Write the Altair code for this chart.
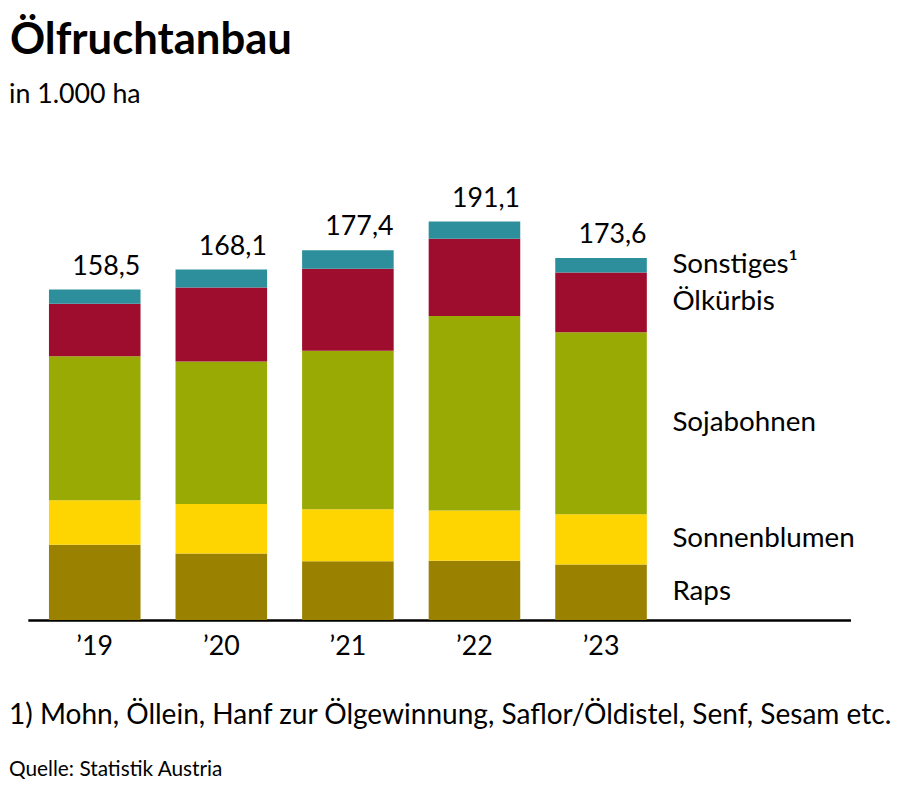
import altair as alt
import pandas as pd

# ---- data (in 1.000 ha) ----
years = ["’19", "’20", "’21", "’22", "’23"]
crops = ["Raps", "Sonnenblumen", "Sojabohnen", "Ölkürbis", "Sonstiges"]
crop_labels = ["Raps", "Sonnenblumen", "Sojabohnen", "Ölkürbis", "Sonstiges¹"]
raps = [36.1, 31.9, 28.2, 28.4, 26.6]
sonnenblumen = [21.3, 23.8, 24.9, 24.2, 24.1]
sojabohnen = [69.1, 68.3, 76.1, 93.2, 87.3]
oelkuerbis = [25.2, 35.5, 39.3, 37.1, 28.7]
sonstiges = [6.8, 8.6, 8.9, 8.2, 6.9]
totals = [158.5, 168.1, 177.4, 191.1, 173.6]
colors = ["#9a8200", "#fed500", "#9aaa05", "#9e0c2e", "#2e8f9c"]

title_text = "Ölfruchtanbau"
subtitle_text = "in 1.000 ha"
footnote_text = "1) Mohn, Öllein, Hanf zur Ölgewinnung, Saflor/Öldistel, Senf, Sesam etc."
source_text = "Quelle: Statistik Austria"

FONT = "Lato"

series = [raps, sonnenblumen, sojabohnen, oelkuerbis, sonstiges]
rows = []
for ci, (crop, vals) in enumerate(zip(crops, series)):
    for yi, y in enumerate(years):
        rows.append({"year": y, "crop": crop, "value": vals[yi], "order": ci})
df = pd.DataFrame(rows)

df_tot = pd.DataFrame({"year": years, "total": totals,
                       "label": [f"{t:.1f}".replace(".", ",") for t in totals]})

# label positions: midpoints of the last bar's segments
last = [s[-1] for s in series]
mids, acc = [], 0.0
for v in last:
    mids.append(acc + v / 2)
    acc += v
df_lab = pd.DataFrame({"year": [years[-1]] * len(crops), "mid": mids, "label": crop_labels})

x_enc = alt.X("year:N", sort=years,
              scale=alt.Scale(paddingInner=0.2765, paddingOuter=0.888, align=0.094),
              axis=alt.Axis(title=None, ticks=False, labelAngle=0, labelFont=FONT,
                            labelFontSize=27, labelColor="black", labelBaseline="alphabetic",
                            labelPadding=35, domainColor="black", domainWidth=2.5,
                            grid=False))
y_scale = alt.Scale(domain=[0, 200.6], nice=False, zero=True)

bars = alt.Chart(df).mark_bar().encode(
    x=x_enc,
    y=alt.Y("value:Q", stack="zero", scale=y_scale, axis=None),
    color=alt.Color("crop:N", scale=alt.Scale(domain=crops, range=colors), legend=None),
    order=alt.Order("order:Q", sort="ascending"),
)

tot_text = alt.Chart(df_tot).mark_text(
    align="right", baseline="alphabetic", dx=46, dy=-15, font=FONT, fontSize=27, color="black"
).encode(
    x=alt.X("year:N", sort=years),
    y=alt.Y("total:Q", scale=y_scale),
    text="label:N",
)

lab_text = alt.Chart(df_lab).mark_text(
    align="left", baseline="middle", dx=72, font=FONT, fontSize=28, color="black"
).encode(
    x=alt.X("year:N", sort=years),
    y=alt.Y("mid:Q", scale=y_scale),
    text="label:N",
)

def note(text, x, y, size, weight="normal"):
    return alt.Chart(pd.DataFrame({"t": [text]})).mark_text(
        align="left", baseline="alphabetic", font=FONT, fontSize=size,
        fontWeight=weight, color="black"
    ).encode(text="t:N", x=alt.value(x), y=alt.value(y))

title = note(title_text, -18, -149, 44, "bold")
subtitle = note(subtitle_text, -19, -100, 27)
footnote = note(footnote_text, -19, 527, 28.3)
source = note(source_text, -19, 579, 21)

chart = alt.layer(bars, tot_text, lab_text, title, subtitle, footnote, source).properties(
    width=830, height=422,
    autosize=alt.AutoSizeParams(type="none"),
    padding={"left": 20, "top": 192, "right": 55, "bottom": 174},
    background="white",
).configure_view(stroke=None)

chart.save("out.html", embed_options={"renderer": "svg", "actions": False})
